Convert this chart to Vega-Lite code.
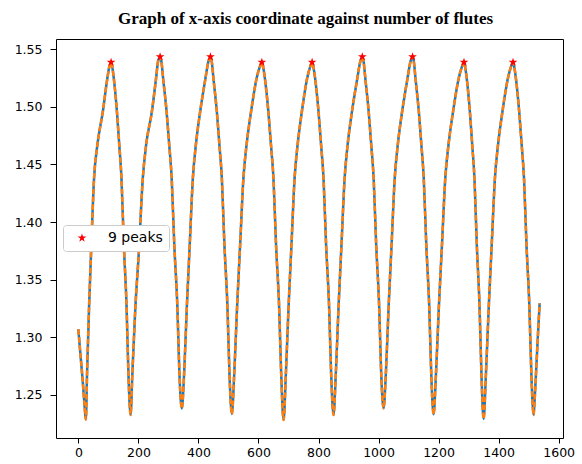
{
  "$schema": "https://vega.github.io/schema/vega-lite/v6.json",
  "width": 507,
  "height": 399,
  "autosize": {"type": "none"},
  "padding": {"left": 56, "top": 39, "right": 19, "bottom": 26},
  "background": "white",
  "title": {
    "text": "Graph of x-axis coordinate against number of flutes",
    "font": "Liberation Serif",
    "fontWeight": "bold",
    "fontSize": 17,
    "color": "#000",
    "anchor": "middle",
    "dx": -4,
    "offset": 11
  },
  "config": {
    "view": {"stroke": "#000", "strokeWidth": 1},
    "axis": {
      "grid": false,
      "domain": false,
      "title": null,
      "labelFont": "DejaVu Sans",
      "labelFontSize": 12.5,
      "labelColor": "#000",
      "tickColor": "#000",
      "tickSize": 5,
      "tickWidth": 1,
      "labelPadding": 3
    }
  },
  "datasets": {
    "curve": [
      {"x": 0, "y": 1.307}, {"x": 5.7, "y": 1.2888}, {"x": 14.3, "y": 1.2628}, {"x": 21, "y": 1.2397}, {"x": 25, "y": 1.2287},
      {"x": 29, "y": 1.2691}, {"x": 35.7, "y": 1.3266}, {"x": 42.3, "y": 1.3731}, {"x": 52.3, "y": 1.4381}, {"x": 63.3, "y": 1.4668}, {"x": 81.3, "y": 1.4954}, {"x": 96.7, "y": 1.5249}, {"x": 103, "y": 1.5345}, {"x": 109, "y": 1.5385},
      {"x": 112.9, "y": 1.5345}, {"x": 118.1, "y": 1.5246}, {"x": 128.5, "y": 1.4956}, {"x": 136.3, "y": 1.4668}, {"x": 143.6, "y": 1.4379}, {"x": 151.5, "y": 1.3801}, {"x": 160.6, "y": 1.3266}, {"x": 166.7, "y": 1.2691}, {"x": 174, "y": 1.2327},
      {"x": 180, "y": 1.2691}, {"x": 190, "y": 1.3266}, {"x": 201.3, "y": 1.3731}, {"x": 214.7, "y": 1.4381}, {"x": 225.7, "y": 1.4668}, {"x": 244.7, "y": 1.4954}, {"x": 259, "y": 1.5249}, {"x": 265.5, "y": 1.5393}, {"x": 272.3, "y": 1.5433},
      {"x": 276.6, "y": 1.5393}, {"x": 282.4, "y": 1.5246}, {"x": 294, "y": 1.4956}, {"x": 302.7, "y": 1.4668}, {"x": 310.9, "y": 1.4379}, {"x": 319.6, "y": 1.3801}, {"x": 329.8, "y": 1.3266}, {"x": 336.6, "y": 1.2691}, {"x": 344.7, "y": 1.2383},
      {"x": 352.4, "y": 1.2691}, {"x": 361.4, "y": 1.3266}, {"x": 371, "y": 1.3801}, {"x": 381.4, "y": 1.4379}, {"x": 391.4, "y": 1.4668}, {"x": 405.7, "y": 1.4956}, {"x": 423.4, "y": 1.5246}, {"x": 433.3, "y": 1.5393}, {"x": 440, "y": 1.5433},
      {"x": 444.3, "y": 1.5393}, {"x": 450, "y": 1.5246}, {"x": 461.4, "y": 1.4956}, {"x": 469.9, "y": 1.4668}, {"x": 478, "y": 1.4379}, {"x": 486.6, "y": 1.3801}, {"x": 496.6, "y": 1.3266}, {"x": 503.3, "y": 1.2691}, {"x": 511.3, "y": 1.2335},
      {"x": 519.4, "y": 1.2691}, {"x": 528.8, "y": 1.3266}, {"x": 538.9, "y": 1.3801}, {"x": 549.8, "y": 1.4379}, {"x": 560.3, "y": 1.4668}, {"x": 575.3, "y": 1.4956}, {"x": 593.9, "y": 1.5246}, {"x": 604.3, "y": 1.5345}, {"x": 611.3, "y": 1.5385},
      {"x": 615.6, "y": 1.5345}, {"x": 621.4, "y": 1.5246}, {"x": 633, "y": 1.4956}, {"x": 641.7, "y": 1.4668}, {"x": 649.9, "y": 1.4379}, {"x": 658.6, "y": 1.3801}, {"x": 668.8, "y": 1.3266}, {"x": 675.6, "y": 1.2691}, {"x": 683.7, "y": 1.2283},
      {"x": 691.4, "y": 1.2691}, {"x": 700.3, "y": 1.3266}, {"x": 709.9, "y": 1.3801}, {"x": 720.3, "y": 1.4379}, {"x": 730.3, "y": 1.4668}, {"x": 744.5, "y": 1.4956}, {"x": 762.2, "y": 1.5246}, {"x": 772.1, "y": 1.5345}, {"x": 778.7, "y": 1.5385},
      {"x": 783, "y": 1.5345}, {"x": 788.7, "y": 1.5246}, {"x": 800.1, "y": 1.4956}, {"x": 808.6, "y": 1.4668}, {"x": 816.7, "y": 1.4379}, {"x": 825.3, "y": 1.3801}, {"x": 835.3, "y": 1.3266}, {"x": 842, "y": 1.2691}, {"x": 850, "y": 1.2327},
      {"x": 857.8, "y": 1.2691}, {"x": 866.8, "y": 1.3266}, {"x": 876.5, "y": 1.3801}, {"x": 887, "y": 1.4379}, {"x": 897, "y": 1.4668}, {"x": 911.4, "y": 1.4956}, {"x": 929.3, "y": 1.5246}, {"x": 939.3, "y": 1.5393}, {"x": 946, "y": 1.5433},
      {"x": 950.2, "y": 1.5393}, {"x": 955.9, "y": 1.5246}, {"x": 967.2, "y": 1.4956}, {"x": 975.7, "y": 1.4668}, {"x": 983.7, "y": 1.4379}, {"x": 992.2, "y": 1.3801}, {"x": 1002.1, "y": 1.3266}, {"x": 1008.8, "y": 1.2691}, {"x": 1016.7, "y": 1.2385},
      {"x": 1024.5, "y": 1.2691}, {"x": 1033.6, "y": 1.3266}, {"x": 1043.4, "y": 1.3801}, {"x": 1053.9, "y": 1.4379}, {"x": 1064, "y": 1.4668}, {"x": 1078.5, "y": 1.4956}, {"x": 1096.5, "y": 1.5246}, {"x": 1106.5, "y": 1.5393}, {"x": 1113.3, "y": 1.5433},
      {"x": 1117.5, "y": 1.5393}, {"x": 1123.1, "y": 1.5246}, {"x": 1134.3, "y": 1.4956}, {"x": 1142.7, "y": 1.4668}, {"x": 1150.6, "y": 1.4379}, {"x": 1159.1, "y": 1.3801}, {"x": 1168.9, "y": 1.3266}, {"x": 1175.5, "y": 1.2691}, {"x": 1183.3, "y": 1.2333},
      {"x": 1191.5, "y": 1.2691}, {"x": 1201, "y": 1.3266}, {"x": 1211.3, "y": 1.3801}, {"x": 1222.3, "y": 1.4379}, {"x": 1233, "y": 1.4668}, {"x": 1248.2, "y": 1.4956}, {"x": 1267.1, "y": 1.5246}, {"x": 1277.6, "y": 1.5345}, {"x": 1284.7, "y": 1.5385},
      {"x": 1288.6, "y": 1.5345}, {"x": 1293.8, "y": 1.5246}, {"x": 1304.3, "y": 1.4956}, {"x": 1312.1, "y": 1.4668}, {"x": 1319.5, "y": 1.4379}, {"x": 1327.4, "y": 1.3801}, {"x": 1336.5, "y": 1.3266}, {"x": 1342.7, "y": 1.2691}, {"x": 1350, "y": 1.2292},
      {"x": 1357.9, "y": 1.2691}, {"x": 1367.2, "y": 1.3266}, {"x": 1377, "y": 1.3801}, {"x": 1387.7, "y": 1.4379}, {"x": 1398, "y": 1.4668}, {"x": 1412.7, "y": 1.4956}, {"x": 1431, "y": 1.5246}, {"x": 1441.1, "y": 1.5345}, {"x": 1448, "y": 1.5385},
      {"x": 1452.1, "y": 1.5345}, {"x": 1457.6, "y": 1.5246}, {"x": 1468.6, "y": 1.4956}, {"x": 1476.9, "y": 1.4668}, {"x": 1484.6, "y": 1.4379}, {"x": 1492.9, "y": 1.3801}, {"x": 1502.5, "y": 1.3266}, {"x": 1509, "y": 1.2691}, {"x": 1516.7, "y": 1.2327},
      {"x": 1520, "y": 1.2457}, {"x": 1525.7, "y": 1.2746}, {"x": 1531.3, "y": 1.3035}, {"x": 1536.7, "y": 1.3295}
    ],
    "peaks": [
      {"x": 109, "y": 1.5385, "s": "9 peaks"},
      {"x": 272.3, "y": 1.5433, "s": "9 peaks"},
      {"x": 440, "y": 1.5433, "s": "9 peaks"},
      {"x": 611.3, "y": 1.5385, "s": "9 peaks"},
      {"x": 778.7, "y": 1.5385, "s": "9 peaks"},
      {"x": 946, "y": 1.5433, "s": "9 peaks"},
      {"x": 1113.3, "y": 1.5433, "s": "9 peaks"},
      {"x": 1284.7, "y": 1.5385, "s": "9 peaks"},
      {"x": 1448, "y": 1.5385, "s": "9 peaks"}
    ]
  },
  "encoding": {
    "x": {
      "field": "x",
      "type": "quantitative",
      "scale": {"domain": [-74.5, 1614.5], "nice": false, "zero": false},
      "axis": {"values": [0, 200, 400, 600, 800, 1000, 1200, 1400, 1600], "format": "d"}
    },
    "y": {
      "field": "y",
      "type": "quantitative",
      "scale": {"domain": [1.2127, 1.5587], "nice": false, "zero": false},
      "axis": {"values": [1.25, 1.3, 1.35, 1.4, 1.45, 1.5, 1.55], "format": ".2f", "tickSize": 6, "labelPadding": 8}
    }
  },
  "layer": [
    {
      "data": {"name": "curve"},
      "mark": {"type": "line", "color": "#1f77b4", "strokeWidth": 2.5, "interpolate": "monotone", "clip": true}
    },
    {
      "data": {"name": "curve"},
      "mark": {"type": "line", "color": "#ff7f0e", "strokeWidth": 2.5, "strokeDash": [5.5, 2.4], "interpolate": "monotone", "clip": true}
    },
    {
      "data": {"name": "peaks"},
      "mark": {
        "type": "point",
        "shape": "M0,-1L0.2245,-0.309L0.951,-0.309L0.363,0.118L0.588,0.809L0,0.382L-0.588,0.809L-0.363,0.118L-0.951,-0.309L-0.2245,-0.309Z",
        "filled": true,
        "size": 85,
        "opacity": 1
      },
      "encoding": {
        "color": {
          "field": "s",
          "type": "nominal",
          "scale": {"range": ["#ff0000"]},
          "legend": {
            "title": null,
            "orient": "none",
            "legendX": 7,
            "legendY": 186,
            "padding": 6,
            "fillColor": "white",
            "strokeColor": "#cccccc",
            "cornerRadius": 3,
            "symbolType": "M0,-1L0.2245,-0.309L0.951,-0.309L0.363,0.118L0.588,0.809L0,0.382L-0.588,0.809L-0.363,0.118L-0.951,-0.309L-0.2245,-0.309Z",
            "symbolSize": 85,
            "symbolFillColor": "#ff0000",
            "symbolStrokeWidth": 0,
            "symbolOffset": 6,
            "labelOffset": 19,
            "labelFont": "DejaVu Sans",
            "labelFontSize": 14,
            "labelColor": "#000"
          }
        }
      }
    }
  ]
}
